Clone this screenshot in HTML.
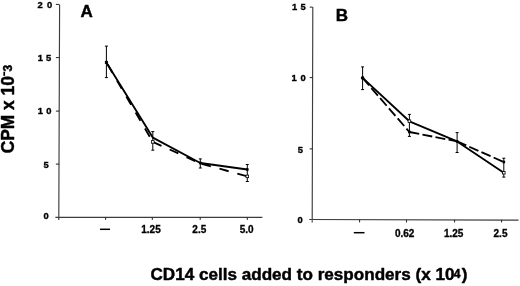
<!DOCTYPE html>
<html><head><meta charset="utf-8"><title>Figure</title>
<style>
html,body{margin:0;padding:0;background:#fff;}
body{width:520px;height:286px;overflow:hidden;}
svg{display:block;}
text{font-family:"Liberation Sans",Arial,Helvetica,sans-serif;font-weight:bold;fill:#000;}
.ax{stroke:#3c3c3c;stroke-width:1.15;fill:none;}
.tk{stroke:#222;stroke-width:1;fill:none;}
.ln{stroke:#000;stroke-width:1.85;fill:none;stroke-linejoin:round;}
.ds{stroke:#000;stroke-width:1.85;fill:none;stroke-dasharray:10 4;}
.eb{stroke:#000;stroke-width:1;fill:none;}
.yl{font-size:9.4px;stroke:#000;stroke-width:0.35px;}
.bd,.bd text{stroke:#000;stroke-width:0.45px;stroke-linejoin:round;}
.xl{font-size:10px;text-anchor:middle;stroke:#000;stroke-width:0.3px;}
</style></head><body>
<svg width="520" height="286" viewBox="0 0 520 286">
<rect width="520" height="286" fill="#fff"/>
<path class="ax" d="M59.6 4.4L58.8 219.9M55.400000000000006 217.4H262.4"/>
<path class="tk" d="M55.900000000000006 4.4H59.2"/>
<path class="tk" d="M55.900000000000006 57.6H59.2"/>
<path class="tk" d="M55.900000000000006 111.1H59.2"/>
<path class="tk" d="M55.900000000000006 164.1H59.2"/>
<path class="tk" d="M105.6 217.4V219.9"/>
<path class="tk" d="M152.3 217.4V219.9"/>
<path class="tk" d="M200.2 217.4V219.9"/>
<path class="tk" d="M247.3 217.4V219.9"/>
<text class="yl" x="37.6" y="7.6">2</text><text class="yl" x="46.9" y="7.6">0</text>
<text class="yl" x="37.8" y="60.9">1</text><text class="yl" x="46" y="60.9">5</text>
<text class="yl" x="37.8" y="114.3">1</text><text class="yl" x="46.2" y="114.3">0</text>
<text class="yl" x="43.4" y="168">5</text>
<text class="yl" x="43.4" y="219.2">0</text>
<path d="M100 229.3H110" stroke="#000" stroke-width="1.5"/>
<text class="xl" x="151" y="233.2">1.25</text>
<text class="xl" x="199.3" y="233.2">2.5</text>
<text class="xl" x="246.6" y="233.2">5.0</text>
<text class="bd" x="80.5" y="16.5" font-size="17px">A</text>
<path class="ds" style="stroke-dasharray:9.5 9;stroke-dashoffset:16" d="M106.4 62.4L152.4 141.2"/>
<path class="ds" style="stroke-dasharray:9.5 9;stroke-dashoffset:0" d="M152.8 141.9L200.3 163.4"/>
<path class="ds" style="stroke-dasharray:9.5 9;stroke-dashoffset:17.1" d="M200.3 163.4L247.3 176.4"/>
<path class="ln" d="M106.4 62.4L152.8 137.6L200.3 163L247.3 169.5"/>
<path class="eb" d="M106.4 46.1V77.6M104.9 46.1H107.9M104.9 77.6H107.9"/>
<path class="eb" d="M152.8 131.6V150.2M151.3 131.6H154.3M151.3 150.2H154.3"/>
<path class="eb" d="M200.3 158.9V168M198.8 158.9H201.8M198.8 168H201.8"/>
<path class="eb" d="M247.3 164.5V181.5M245.8 164.5H248.8M245.8 181.5H248.8"/>
<rect x="104.9" y="60.9" width="3" height="3" fill="#000"/>
<rect x="151.5" y="140.6" width="2.6" height="2.6" fill="#fff" stroke="#000" stroke-width="0.8"/>
<rect x="246" y="175.1" width="2.6" height="2.6" fill="#fff" stroke="#000" stroke-width="0.8"/>
<rect x="199" y="161.7" width="2.6" height="2.6" fill="#000"/>
<rect x="246" y="168.2" width="2.6" height="2.6" fill="#000"/>
<path class="ax" d="M312.8 7.1L312.2 222.60000000000002M309.2 219.5L518.5 220.1"/>
<path class="tk" d="M309.7 7.1H312.5"/>
<path class="tk" d="M309.7 77.6H312.5"/>
<path class="tk" d="M309.7 148.9H312.5"/>
<path class="tk" d="M359.6 219.8V222.4"/>
<path class="tk" d="M406.5 219.8V222.4"/>
<path class="tk" d="M454.6 219.8V222.4"/>
<path class="tk" d="M501.6 219.8V222.4"/>
<text class="yl" x="292" y="10.3">1</text><text class="yl" x="300.5" y="10.3">5</text>
<text class="yl" x="291.6" y="81">1</text><text class="yl" x="300.5" y="81">0</text>
<text class="yl" x="297.8" y="152.9">5</text>
<text class="yl" x="297.6" y="223.3">0</text>
<path d="M353.8 232.7H364.5" stroke="#000" stroke-width="1.5"/>
<text class="xl" x="404.7" y="236.5">0.62</text>
<text class="xl" x="453.7" y="236.5">1.25</text>
<text class="xl" x="500.5" y="236.5">2.5</text>
<text class="bd" x="335.8" y="20.8" font-size="17px">B</text>
<path class="ds" style="stroke-dasharray:10 3.4;stroke-dashoffset:0" d="M362.6 77.9L409.4 132"/>
<path class="ds" style="stroke-dasharray:10 3.3;stroke-dashoffset:0" d="M409.4 132L457.1 141.4"/>
<path class="ds" style="stroke-dasharray:10 3.3;stroke-dashoffset:0" d="M457.1 141.4L503.8 162"/>
<path class="ln" d="M362.6 77.9L409.4 121.3L457.1 141.4L503.8 172.7"/>
<path class="eb" d="M362.6 66.9V89.6M361.1 66.9H364.1M361.1 89.6H364.1"/>
<path class="eb" d="M409.4 114.4V136.4M407.9 114.4H410.9M407.9 136.4H410.9"/>
<path class="eb" d="M457.1 132.6V152.5M455.6 132.6H458.6M455.6 152.5H458.6"/>
<path class="eb" d="M503.8 158.2V177.1M502.3 158.2H505.3M502.3 177.1H505.3"/>
<circle cx="362.6" cy="77.9" r="1.8" fill="#000"/>
<rect x="408.1" y="119.9" width="2.6" height="2.6" fill="#fff" stroke="#000" stroke-width="0.8"/>
<rect x="502.5" y="171.4" width="2.6" height="2.6" fill="#fff" stroke="#000" stroke-width="0.8"/>
<rect x="408.1" y="130.7" width="2.6" height="2.6" fill="#000"/>
<rect x="455.8" y="140.1" width="2.6" height="2.6" fill="#000"/>
<rect x="502.5" y="160.7" width="2.6" height="2.6" fill="#000"/>
<g class="bd" transform="translate(14.2 153.3) rotate(-90)"><text x="0" y="0" font-size="17.5px" textLength="77.2" lengthAdjust="spacingAndGlyphs">CPM x 10</text><text x="76.9" y="-5.9" font-size="12px" style="stroke-width:0.15px" textLength="5.4" lengthAdjust="spacingAndGlyphs">-</text><text x="81.9" y="-2.6" font-size="12px">3</text></g>
<text class="bd" x="150.5" y="280" font-size="17px" textLength="304" lengthAdjust="spacingAndGlyphs">CD14 cells added to responders (x 10</text>
<text class="bd" x="453.8" y="278.4" font-size="12px">4</text>
<text class="bd" x="461.7" y="280" font-size="17px">)</text>
</svg>
</body></html>
